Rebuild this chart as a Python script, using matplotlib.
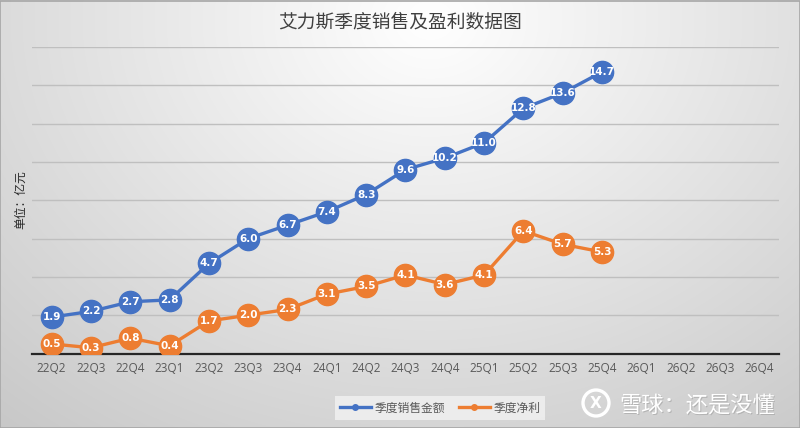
import numpy as np
import matplotlib
matplotlib.use("Agg")
import matplotlib.pyplot as plt
from matplotlib.lines import Line2D
from matplotlib.patches import Ellipse

plt.rcParams['font.family'] = ['Noto Sans CJK SC', 'DejaVu Sans']

categories = ["22Q2", "22Q3", "22Q4", "23Q1", "23Q2", "23Q3", "23Q4", "24Q1", "24Q2",
              "24Q3", "24Q4", "25Q1", "25Q2", "25Q3", "25Q4", "26Q1", "26Q2", "26Q3", "26Q4"]
sales = [1.9, 2.2, 2.7, 2.8, 4.7, 6.0, 6.7, 7.4, 8.3, 9.6, 10.2, 11.0, 12.8, 13.6, 14.7]
profit = [0.5, 0.3, 0.8, 0.4, 1.7, 2.0, 2.3, 3.1, 3.5, 4.1, 3.6, 4.1, 6.4, 5.7, 5.3]

title = "艾力斯季度销售及盈利数据图"
ylabel = "单位：亿元"
sales_name = "季度销售金额"
profit_name = "季度净利"
watermark = "雪球：还是没懂"

blue = "#4472C4"
orange = "#ED7D31"

W, H = 800, 428
fig = plt.figure(figsize=(W / 100, H / 100), dpi=100)

# background gradient
bg = fig.add_axes([0, 0, 1, 1], zorder=0)
yy, xx = np.mgrid[0:H, 0:W]
d = np.sqrt(((xx - 430) / 520.0) ** 2 + ((yy - 20) / 420.0) ** 2)
val = 1.0 - 0.17 * np.clip(d, 0, 1.3)
img = np.dstack([val, val, val])
bg.imshow(img, aspect='auto', extent=[0, 1, 0, 1], origin='upper')
bg.set_xlim(0, 1)
bg.set_ylim(0, 1)
bg.axis('off')
bg.add_patch(plt.Rectangle((0.0005, 0.001), 0.999, 0.997, fill=False, edgecolor="#A6A6A6", lw=1.2))

left, right = 32 / W, 779 / W
bottom, top = 1 - 353.5 / H, 1 - 47 / H
ax = fig.add_axes([left, bottom, right - left, top - bottom], zorder=1)
ax.patch.set_alpha(0)

x_sales = np.arange(len(sales))
x_profit = np.arange(len(profit))

ax.plot(x_sales, sales, color=blue, lw=2.4, marker='o', ms=16, mfc=blue, mec=blue, zorder=3)
ax.plot(x_profit, profit, color=orange, lw=2.4, marker='o', ms=16, mfc=orange, mec=orange, zorder=3)

for x, v in zip(x_sales, sales):
    ax.text(x, v, f"{v:.1f}", color="white", fontsize=7.5, fontweight='bold',
            ha='center', va='center', zorder=4, family=['DejaVu Sans'])
for x, v in zip(x_profit, profit):
    ax.text(x, v, f"{v:.1f}", color="white", fontsize=7.5, fontweight='bold',
            ha='center', va='center', zorder=4, family=['DejaVu Sans'])

ax.set_xlim(-0.5, len(categories) - 0.5)
ax.set_ylim(0, 16)
ax.set_yticks(np.arange(0, 17, 2))
ax.set_yticklabels([])
ax.tick_params(axis='y', length=0)
ax.grid(axis='y', color="#BFBFBF", lw=1.0)
ax.set_axisbelow(True)
ax.set_xticks(np.arange(len(categories)))
ax.set_xticklabels(categories, color="#595959", fontsize=8.5)
ax.tick_params(axis='x', length=0, pad=6)
for s in ['top', 'right', 'left']:
    ax.spines[s].set_visible(False)
ax.spines['bottom'].set_color("#262626")
ax.spines['bottom'].set_linewidth(1.6)
for lab in ax.get_xticklabels():
    lab.set_family(['Open Sans', 'DejaVu Sans'])

fig.text(0.5, 1 - 22 / H, title, ha='center', va='center', fontsize=13.5, color="#404040")
fig.text(21 / W, 1 - 200 / H, ylabel, ha='center', va='center', rotation=90, fontsize=8.5, color="#262626")

handles = [Line2D([0], [0], color=blue, lw=2.4, marker='o', ms=4),
           Line2D([0], [0], color=orange, lw=2.4, marker='o', ms=4)]
leg = fig.legend(handles, [sales_name, profit_name], loc='center', bbox_to_anchor=(440 / W, 1 - 408 / H),
                 ncol=2, frameon=True, fontsize=8.5, handlelength=2.6, columnspacing=1.2,
                 handletextpad=0.3, borderpad=0.45)
leg.get_frame().set_facecolor("#F2F2F2")
leg.get_frame().set_edgecolor("none")
leg.get_frame().set_alpha(0.8)
leg.get_frame().set_boxstyle('square', pad=0)
for t in leg.get_texts():
    t.set_color("#595959")

# watermark
wx, wy = 697 / W, 1 - 405 / H
fig.text(wx + 0.0015, wy - 0.003, watermark, ha='center', va='center', fontsize=16,
         color="#A0A0A0", alpha=0.6, zorder=5)
fig.text(wx, wy, watermark, ha='center', va='center', fontsize=16,
         color="white", zorder=6)
circ = Ellipse((596 / W, 1 - 403 / H), 26 / W, 26 / H, transform=fig.transFigure, fill=False,
               edgecolor="white", lw=2.4, zorder=6)
fig.add_artist(circ)
fig.text(596 / W, 1 - 403 / H, "X", ha='center', va='center', fontsize=11, color="white",
         fontweight='bold', zorder=6, family=['DejaVu Sans'])

fig.savefig("out.png", dpi=100)
